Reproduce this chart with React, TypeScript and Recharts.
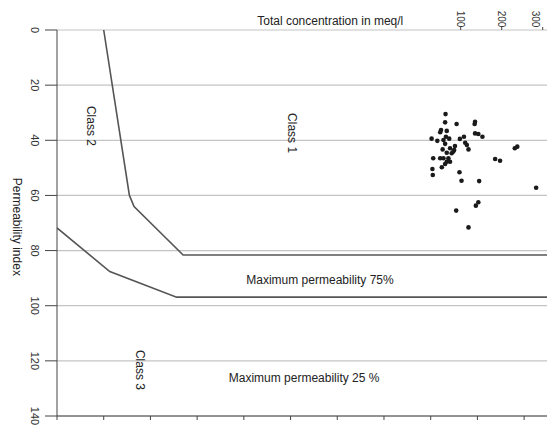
import React from "react";
import {
  ComposedChart,
  Line,
  Scatter,
  XAxis,
  YAxis,
  CartesianGrid,
  ReferenceDot,
} from "recharts";

// Permeability index ticks (axis runs downward)
const piTicks = [0, 20, 40, 60, 80, 100, 120, 140];
// Unlabelled ticks along the bottom edge
const baseTicks = [0, 1, 2, 3, 4, 5, 6, 7, 8, 9, 10];
// Labelled total concentration ticks (meq/l) along the top
const concTicks = [100, 200, 300];

// Class boundaries (u = position along the bottom scale, pi = permeability index)
const upperBoundary = [
  { u: 1.0, pi: 0 },
  { u: 1.55, pi: 60 },
  { u: 1.65, pi: 64 },
  { u: 2.7, pi: 81.6 },
  { u: 10.49, pi: 81.6 },
];
const lowerBoundary = [
  { u: 0, pi: 71.8 },
  { u: 1.13, pi: 87.6 },
  { u: 2.56, pi: 96.9 },
  { u: 10.49, pi: 96.9 },
];

// Samples: total concentration (meq/l) vs permeability index
const sampleConc = [
  63, 62, 90, 135, 134, 52, 50, 66, 29, 43, 58, 72, 64, 98, 108, 135, 143, 153,
  111, 115, 62, 86, 56, 74, 84, 119, 66, 78, 82, 33, 50, 58, 70, 66, 74, 62, 54,
  31, 32, 97, 184, 196, 232, 238, 102, 145, 284, 143, 137, 89, 119,
];
const samplePI = [
  30.5, 33.5, 34.1, 33.3, 34.1, 36.3, 37.1, 36.6, 39.4, 40.2, 39.9, 39.4, 38.7,
  39.5, 38.7, 37.5, 37.7, 38.7, 40.9, 41.7, 41.3, 42.1, 43.3, 42.9, 43.5, 43.3,
  44.5, 44.7, 44.1, 46.5, 46.5, 46.5, 46.5, 47.8, 47.8, 48.6, 49.8, 50.4, 52.6,
  51.6, 46.8, 47.4, 42.9, 42.3, 54.7, 54.8, 57.2, 62.5, 63.7, 65.5, 71.6,
];
const samples = sampleConc.map((c, i) => ({ c, pi: samplePI[i] }));

// Text annotations placed in chart coordinates
const notes = [
  { u: 0.73, pi: 34.8, text: "Class 2", angle: 90 },
  { u: 5.03, pi: 37.4, text: "Class 1", angle: 90 },
  { u: 1.78, pi: 123.3, text: "Class 3", angle: 90 },
  { u: 5.63, pi: 90.7, text: "Maximum permeability 75%", angle: 0 },
  { u: 5.29, pi: 126.2, text: "Maximum permeability 25 %", angle: 0 },
  { u: 5.85, pi: -3.3, text: "Total concentration in meq/l", angle: 0 },
  { u: -0.86, pi: 71.4, text: "Permeability index", angle: 90 },
];

const FONT = "Liberation Sans, Arial, sans-serif";

const PiTick = ({ y, payload }: any) => (
  <text
    x={35}
    y={y}
    transform={`rotate(90, 35, ${y})`}
    textAnchor="middle"
    dominantBaseline="central"
    fontSize={11}
    fill="#333"
    fontFamily={FONT}
  >
    {payload.value}
  </text>
);

const ConcTick = ({ x, payload }: any) => (
  <text
    x={x}
    y={19}
    transform={`rotate(90, ${x}, 19)`}
    textAnchor="middle"
    dominantBaseline="central"
    fontSize={10}
    fill="#333"
    fontFamily={FONT}
  >
    {payload.value}
  </text>
);

const Dot = ({ cx, cy }: any) => <circle cx={cx} cy={cy} r={2.3} fill="#1a1a1a" />;

export default function App() {
  return (
    <div style={{ position: "absolute", left: 0, top: 0, background: "#fff" }}>
      <ComposedChart
        width={547}
        height={429}
        margin={{ top: 0, right: 0, bottom: 0, left: 0 }}
      >
        <CartesianGrid vertical={false} stroke="#c4c4c4" strokeWidth={1.2} />
        <XAxis
          xAxisId="bottom"
          dataKey="u"
          type="number"
          domain={[0, 10.49]}
          ticks={baseTicks}
          tick={() => <g />}
          tickSize={4}
          height={13}
          stroke="#444"
          allowDataOverflow
        />
        <XAxis
          xAxisId="top"
          dataKey="c"
          orientation="top"
          type="number"
          domain={[-884.6, 310.5]}
          ticks={concTicks}
          tick={<ConcTick />}
          tickSize={3}
          axisLine={false}
          height={30}
          stroke="#444"
          allowDataOverflow
        />
        <YAxis
          dataKey="pi"
          type="number"
          reversed
          domain={[0, 140]}
          ticks={piTicks}
          tick={<PiTick />}
          tickSize={12}
          width={57}
          stroke="#444"
        />
        <Line
          xAxisId="bottom"
          data={upperBoundary}
          dataKey="pi"
          stroke="#555"
          strokeWidth={1.6}
          dot={false}
          isAnimationActive={false}
        />
        <Line
          xAxisId="bottom"
          data={lowerBoundary}
          dataKey="pi"
          stroke="#555"
          strokeWidth={1.6}
          dot={false}
          isAnimationActive={false}
        />
        <Scatter
          xAxisId="top"
          data={samples}
          dataKey="pi"
          shape={<Dot />}
          isAnimationActive={false}
        />
        {notes.map((n) => (
          <ReferenceDot
            key={n.text}
            xAxisId="bottom"
            x={n.u}
            y={n.pi}
            r={0}
            stroke="none"
            fill="none"
            ifOverflow="visible"
            label={{
              value: n.text,
              position: "center",
              angle: n.angle,
              fontSize: 12,
              fill: "#222",
              fontFamily: FONT,
            }}
          />
        ))}
      </ComposedChart>
    </div>
  );
}
